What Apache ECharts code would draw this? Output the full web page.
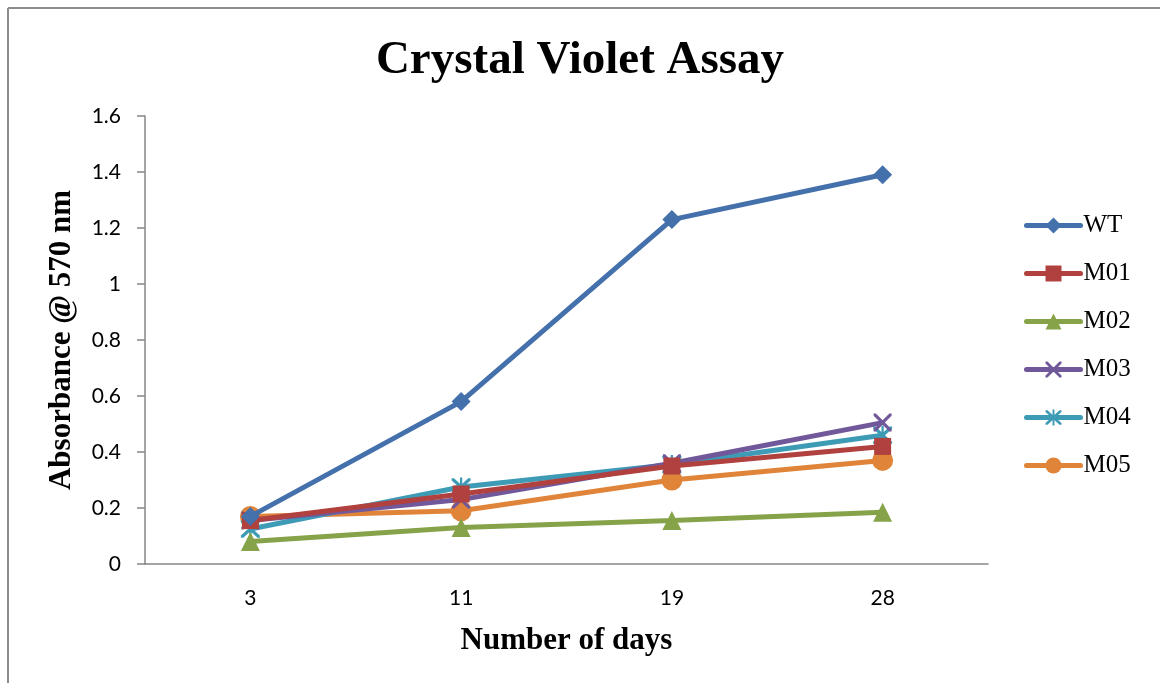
<!DOCTYPE html>
<html><head><meta charset="utf-8">
<script src="https://cdn.jsdelivr.net/npm/echarts@6/dist/echarts.min.js"></script>
<style>html,body{margin:0;padding:0;background:#fff}#c{width:1160px;height:683px}</style>
</head><body><div id="c"></div>
<script>
const days = ['3', '11', '19', '28'];
const seriesNames = ['WT', 'M01', 'M02', 'M03', 'M04', 'M05'];
const WT  = [0.17, 0.58, 1.23, 1.39];
const M01 = [0.155, 0.25, 0.35, 0.42];
const M02 = [0.08, 0.13, 0.155, 0.185];
const M03 = [0.155, 0.23, 0.36, 0.505];
const M04 = [0.125, 0.275, 0.355, 0.46];
const M05 = [0.17, 0.19, 0.30, 0.37];
const yTicks = {min: 0, max: 1.6, interval: 0.2};

const colors = ['#4470AB', '#B0413E', '#86A34A', '#70589A', '#3E9BB5', '#E0843A'];
const xPath = 'path://M0,0 L2.5,0 L10,7.5 L17.5,0 L20,0 L20,2.5 L12.5,10 L20,17.5 L20,20 L17.5,20 L10,12.5 L2.5,20 L0,20 L0,17.5 L7.5,10 L0,2.5 Z';
const starPath = 'path://M0,0 L2.5,0 L10,7.5 L17.5,0 L20,0 L20,2.5 L12.5,10 L20,17.5 L20,20 L17.5,20 L10,12.5 L2.5,20 L0,20 L0,17.5 L7.5,10 L0,2.5 Z M8.8,-1 L11.2,-1 L11.2,21 L8.8,21 Z';
const symbols = ['diamond', 'rect', 'triangle', xPath, starPath, 'circle'];
const sizes = [19, 17, 19, 18, 19, 21];
const data = [WT, M01, M02, M03, M04, M05];

const chart = echarts.init(document.getElementById('c'));
chart.setOption({
  animation: false,
  backgroundColor: '#fff',
  color: colors,
  title: {
    text: 'Crystal Violet Assay', left: 'center', top: 32,
    textStyle: {fontFamily: 'Liberation Serif', fontWeight: 'bold', fontSize: 47, color: '#000'}
  },
  legend: {
    orient: 'vertical', left: 1019, top: 208, itemWidth: 54, itemHeight: 20, itemGap: 23,
    data: seriesNames,
    lineStyle: {width: 5, cap: 'round'},
    textStyle: {fontFamily: 'Liberation Serif', fontSize: 25, color: '#000', padding: [0, 0, 0, -2]}
  },
  grid: {left: 145, right: 172, top: 116, bottom: 119, containLabel: false},
  xAxis: {
    type: 'category', data: days, boundaryGap: true,
    name: 'Number of days', nameLocation: 'middle', nameGap: 61,
    nameTextStyle: {fontFamily: 'Liberation Serif', fontWeight: 'bold', fontSize: 31, color: '#000'},
    axisLine: {lineStyle: {color: '#868686', width: 1.5}},
    axisTick: {length: 8, lineStyle: {color: '#868686', width: 1.5}},
    axisLabel: {fontFamily: 'Lato', fontSize: 21, color: '#000', margin: 24}
  },
  yAxis: {
    type: 'value', min: yTicks.min, max: yTicks.max, interval: yTicks.interval,
    name: 'Absorbance @ 570 nm', nameLocation: 'middle', nameGap: 68, nameRotate: 90,
    nameTextStyle: {fontFamily: 'Liberation Serif', fontWeight: 'bold', fontSize: 31, color: '#000'},
    axisLine: {show: true, lineStyle: {color: '#868686', width: 1.5}},
    axisTick: {show: true, length: 8, lineStyle: {color: '#868686', width: 1.5}},
    splitLine: {show: false},
    axisLabel: {fontFamily: 'Lato', fontSize: 21, color: '#000', margin: 24}
  },
  graphic: [
    {type: 'line', shape: {x1: 8, y1: 8, x2: 8, y2: 683}, style: {stroke: '#8c8c8c', lineWidth: 2}},
    {type: 'line', shape: {x1: 8, y1: 8, x2: 1160, y2: 8}, style: {stroke: '#8c8c8c', lineWidth: 2}}
  ],
  series: seriesNames.map((n, i) => ({
    name: n, type: 'line', data: data[i],
    symbol: symbols[i], symbolSize: sizes[i], showAllSymbol: true,
    lineStyle: {width: 5, color: colors[i]},
    itemStyle: {color: colors[i]},
    z: 10 - i
  }))
});
</script></body></html>
